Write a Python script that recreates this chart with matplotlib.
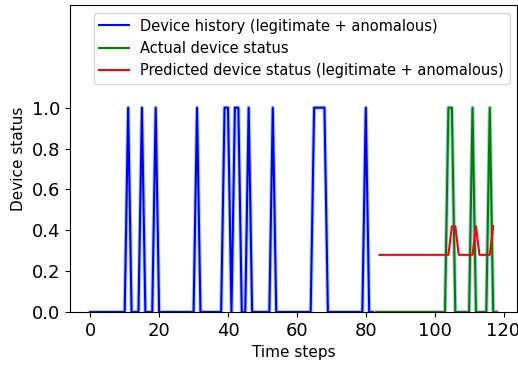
import matplotlib
matplotlib.use('Agg')
import matplotlib.pyplot as plt
import numpy as np


# device history (legitimate + anomalous), time steps 0..82
hist_x = np.arange(0, 83)
hist_on = [11, 15, 19, 31, 39, 40, 42, 43, 46, 53, 65, 66, 67, 68, 80]

# actual device status, time steps 83..118
actual_x = np.arange(83, 119)
actual_on = [104, 105, 111, 116]

# predicted device status, time steps 84..117
pred_x = np.arange(84, 118)
pred_high = [105, 106, 112, 117]
pred_low_val = 0.28
pred_high_val = 0.42

hist_y = np.array([1.0 if t in hist_on else 0.0 for t in hist_x])
actual_y = np.array([1.0 if t in actual_on else 0.0 for t in actual_x])
pred_y = np.array([pred_high_val if t in pred_high else pred_low_val for t in pred_x])

fig = plt.figure(figsize=(5.18, 3.65), dpi=100)
ax = fig.add_axes([0.135, 0.145, 0.863, 0.84])

# faint full series underneath
full_x = np.concatenate([hist_x, actual_x])
full_y = np.concatenate([hist_y, actual_y])
ax.plot(full_x, full_y, color='tab:blue', lw=3, alpha=0.35)

ax.plot(hist_x, hist_y, color='blue', lw=1.5, label='Device history (legitimate + anomalous)')
ax.plot(actual_x, actual_y, color='green', lw=1.5, label='Actual device status')
ax.plot(pred_x, pred_y, color='red', lw=1.5, label='Predicted device status (legitimate + anomalous)')

ax.set_ylim(0, 1.5)
ax.set_xlim(-5.9, 123.9)
ax.set_yticks([0.0, 0.2, 0.4, 0.6, 0.8, 1.0])
ax.set_xticks([0, 20, 40, 60, 80, 100, 120])
ax.tick_params(labelsize=13)
ax.set_xlabel('Time steps', fontsize=11)
ax.set_ylabel('Device status', fontsize=11)
ax.legend(loc='upper right', fontsize=10.5)

fig.savefig('out.png', dpi=100)
